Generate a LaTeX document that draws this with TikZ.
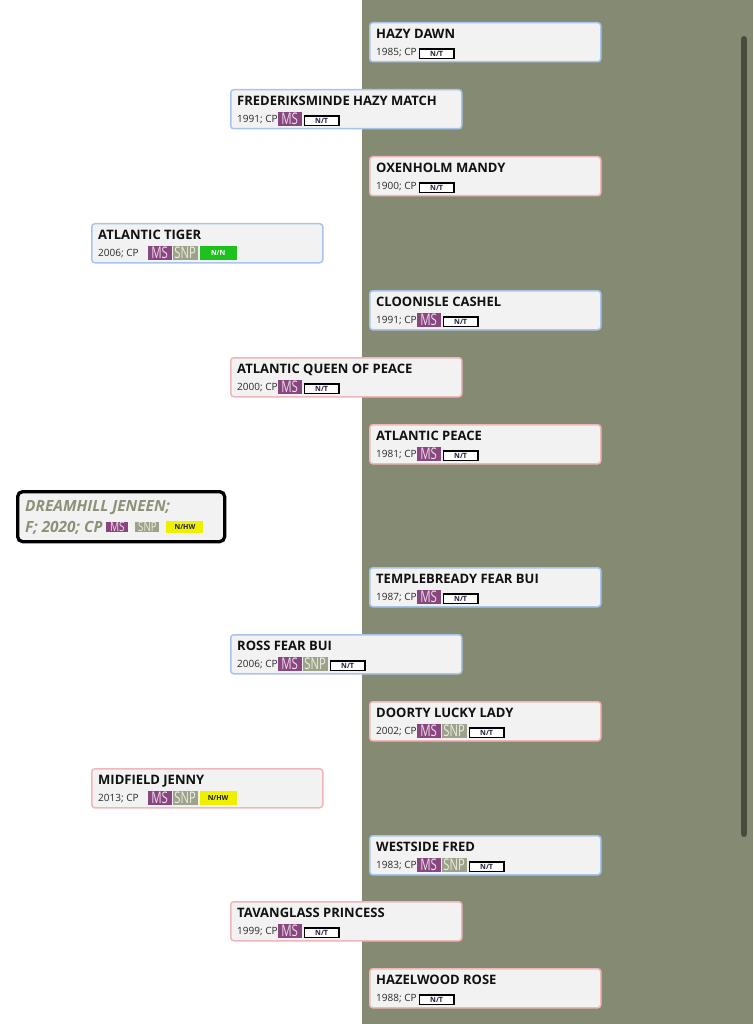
\documentclass[tikz,border=0pt]{standalone}
\usepackage{fontspec}
\setmainfont{Open Sans}
\usepackage{graphicx}
\definecolor{olivebg}{HTML}{858B73}
\definecolor{scrollc}{HTML}{474C3E}
\definecolor{boxfill}{HTML}{F2F2F2}
\definecolor{male}{HTML}{A9C4EA}
\definecolor{female}{HTML}{F2B6BA}
\definecolor{msbg}{HTML}{88487F}
\definecolor{mstxt}{HTML}{F0DCEC}
\definecolor{snpbg}{HTML}{9DA38B}
\definecolor{snptxt}{HTML}{ECEEE2}
\definecolor{nnbg}{HTML}{1EC21E}
\definecolor{nhwbg}{HTML}{EEF000}
\definecolor{ntxt}{HTML}{1E1E3C}
\definecolor{roottxt}{HTML}{8C9178}
\definecolor{nametxt}{HTML}{111111}
\definecolor{datatxt}{HTML}{2A2A2A}

% generic coloured badge: bg, width, height, raise-centre, content
\newcommand\vbadge[5]{\raisebox{\dimexpr #4-#3/2\relax}{\setlength\fboxsep{0pt}\colorbox{#1}{\parbox[b][#3][c]{#2}{\centering #5}}}}
\newcommand\bMS{\vbadge{msbg}{24pt}{14.5pt}{3.6pt}{\color{mstxt}\fontsize{16}{16}\selectfont\scalebox{0.72}[1]{MS}}}
\newcommand\bSNP{\vbadge{snpbg}{25pt}{14.5pt}{3.6pt}{\color{snptxt}\fontsize{16}{16}\selectfont\scalebox{0.7}[1]{SNP}}}
\newcommand\bNN{\vbadge{nnbg}{37pt}{14.5pt}{3.6pt}{\color{white}\fontsize{7}{7}\selectfont\bfseries N/N}}
\newcommand\bNHW{\vbadge{nhwbg}{37pt}{14pt}{3.6pt}{\color{ntxt}\fontsize{7}{7}\selectfont\bfseries N/HW}}
\newcommand\bNT{\raisebox{\dimexpr 3.6pt-5.75pt\relax}{\setlength\fboxsep{0pt}\setlength\fboxrule{1.8pt}\fcolorbox{black}{white}{\parbox[b][7.9pt][c]{32.4pt}{\centering\color{ntxt}\fontsize{7.2}{7.2}\selectfont\bfseries N/T}}}}
% root badges
\newcommand\rMS{\vbadge{msbg}{22pt}{10pt}{4.7pt}{\color{mstxt}\fontsize{13}{13}\selectfont\upshape\mdseries\scalebox{0.78}[1]{MS}}}
\newcommand\rSNP{\vbadge{snpbg}{24pt}{10pt}{4.7pt}{\color{snptxt}\fontsize{13}{13}\selectfont\upshape\mdseries\scalebox{0.75}[1]{SNP}}}
\newcommand\rNHW{\vbadge{nhwbg}{37pt}{12pt}{4.8pt}{\color{ntxt}\fontsize{7}{7}\selectfont\bfseries\upshape N/HW}}

\tikzset{
  hbox/.style={rectangle, anchor=north west, minimum width=231pt, minimum height=39pt,
    fill=boxfill, line width=1.5pt, rounded corners=3pt, inner sep=0pt},
  hname/.style={anchor=base west, inner sep=0pt, text=nametxt,
    font=\bfseries\fontsize{13}{13}\selectfont},
  hdata/.style={anchor=base west, inner sep=0pt, text=datatxt,
    font=\fontsize{10}{10}\selectfont},
  rootbox/.style={rectangle, anchor=north west, minimum width=207pt, minimum height=50pt,
    fill=boxfill, draw=black, line width=3.3pt, rounded corners=5pt, inner sep=0pt},
  roottext/.style={anchor=base west, inner sep=0pt, text=roottxt,
    font=\bfseries\itshape\fontsize{15.4}{15.4}\selectfont},
}

\newcommand\horse[6]{%
  \node[hbox,draw=#4] (#1) at (#2,#3) {};
  \node[hname] (#1-n) at ([shift={(7,16.5)}]#1.north west) {#5};
  \node[hdata] (#1-d) at ([shift={(7,33.5)}]#1.north west) {#6};
}

\begin{document}
\begin{tikzpicture}[x=1pt,y=-1pt]
\useasboundingbox (0,0) rectangle (753,1024);
\fill[white] (0,0) rectangle (753,1024);
\fill[olivebg] (362,0) rectangle (753,1024);
\draw[scrollc, line width=6pt, line cap=round] (744,39) -- (744,834);

% generation 3
\horse{g3a}{369}{22}{male}{HAZY DAWN}{1985; CP\hspace{2pt}\bNT}
\horse{g3b}{369}{156}{female}{OXENHOLM MANDY}{1900; CP\hspace{2pt}\bNT}
\horse{g3c}{369}{290}{male}{CLOONISLE CASHEL}{1991; CP\bMS\hspace{2pt}\bNT}
\horse{g3d}{369}{424}{female}{ATLANTIC PEACE}{1981; CP\bMS\hspace{2pt}\bNT}
\horse{g3e}{369}{567}{male}{TEMPLEBREADY FEAR BUI}{1987; CP\bMS\hspace{2pt}\bNT}
\horse{g3f}{369}{701}{female}{DOORTY LUCKY LADY}{2002; CP\bMS\hspace{1pt}\bSNP\hspace{2pt}\bNT}
\horse{g3g}{369}{835}{male}{WESTSIDE FRED}{1983; CP\bMS\hspace{1pt}\bSNP\hspace{2pt}\bNT}
\horse{g3h}{369}{968}{female}{HAZELWOOD ROSE}{1988; CP\hspace{2pt}\bNT}

% generation 2
\horse{g2a}{230}{89}{male}{FREDERIKSMINDE HAZY MATCH}{1991; CP\bMS\hspace{2pt}\bNT}
\horse{g2b}{230}{357}{female}{ATLANTIC QUEEN OF PEACE}{2000; CP\bMS\hspace{2pt}\bNT}
\horse{g2c}{230}{634}{male}{ROSS FEAR BUI}{2006; CP\bMS\hspace{1pt}\bSNP\hspace{2pt}\bNT}
\horse{g2d}{230}{901}{female}{TAVANGLASS PRINCESS}{1999; CP\bMS\hspace{2pt}\bNT}

% generation 1
\horse{g1a}{91}{223}{male}{ATLANTIC TIGER}{2006; CP\hspace{9pt}\bMS\hspace{1pt}\bSNP\hspace{2pt}\bNN}
\horse{g1b}{91}{768}{female}{MIDFIELD JENNY}{2013; CP\hspace{9pt}\bMS\hspace{1pt}\bSNP\hspace{2pt}\bNHW}

% subject
\node[rootbox] (root) at (16,490) {};
\node[roottext] (root-n) at ([shift={(9,21)}]root.north west) {DREAMHILL JENEEN;};
\node[roottext] (root-d) at ([shift={(9,42)}]root.north west) {F; 2020; CP\hspace{4pt}\rMS\hspace{7pt}\rSNP\hspace{7pt}\rNHW};
\end{tikzpicture}
\end{document}
